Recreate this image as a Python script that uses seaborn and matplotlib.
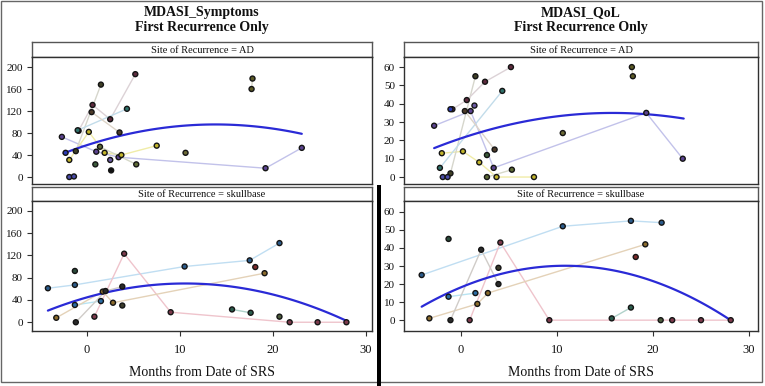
import numpy as np
import pandas as pd
import matplotlib
matplotlib.use("Agg")
import matplotlib.pyplot as plt
import seaborn as sns
from matplotlib.patches import Rectangle

sns.set_theme(style="white")
plt.rcParams['font.family'] = ['Liberation Serif', 'DejaVu Serif']

# ---------------- data ----------------
# MDASI_Symptoms, Site = AD
sym_ad_x = [-2.7, 1.0, 3.4, 19.2, 23.1,
            -1.9, 0.2, 1.9, 3.7, 7.5,
            -1.2, 1.5,
            -0.9, 0.6, 2.5, 5.2,
            -1.0, 4.3,
            1.4, 5.3,
            0.5, 3.5,
            -1.9, -1.4,
            17.7, 17.8,
            -2.3, 0.9, 2.5, 2.6, 10.6]
sym_ad_y = [73, 46, 36, 16, 53,
            31, 82, 44, 40, 57,
            47, 168,
            84, 131, 105, 187,
            85, 124,
            55, 23,
            118, 81,
            0, 1,
            160, 179,
            44, 23, 31, 12, 44]
sym_ad_pid = ['A1'] * 5 + ['A2'] * 5 + ['A3'] * 2 + ['A4'] * 4 + ['A5'] * 2 + ['A6'] * 2 + \
             ['A7'] * 2 + ['A8'] * 2 + ['A9'] * 2 + ['A10', 'A11', 'A12', 'A13', 'A14']

# MDASI_QoL, Site = AD
qol_ad_x = [-2.8, 1.0, 3.4, 19.3, 23.1,
            -2.0, 0.2, 1.9, 3.7, 7.6,
            -1.1, 1.5,
            -0.9, 0.6, 2.5, 5.2,
            -2.2, 4.3,
            2.7, 5.3,
            0.4, 3.5,
            -1.9, -1.4,
            17.8, 17.9,
            -1.1, 2.7, 1.4, 10.6]
qol_ad_y = [28, 36, 5, 35, 10,
            13, 14, 8, 0, 0,
            2, 55,
            37, 42, 52, 60,
            5, 47,
            0, 4,
            36, 15,
            0, 0,
            60, 55,
            37, 12, 39, 24]
qol_ad_pid = ['A1'] * 5 + ['A2'] * 5 + ['A3'] * 2 + ['A4'] * 4 + ['A5'] * 2 + ['A6'] * 2 + \
             ['A7'] * 2 + ['A8'] * 2 + ['A9'] * 2 + ['A10', 'A11', 'A12', 'A14']

# MDASI_Symptoms, Site = skullbase
sym_sb_x = [-4.2, -1.3, 10.5, 17.5, 20.7,
            -1.3, 1.5,
            0.8, 4.0, 9.0, 21.8, 24.8, 27.9,
            -3.3, 1.7, 2.8, 19.1,
            -1.2, 2.0, 3.8,
            15.6, 17.6,
            -1.3, 3.8, 18.1, 20.7]
sym_sb_y = [61, 67, 100, 111, 142,
            31, 38,
            10, 123, 18, 0, 0, 0,
            8, 55, 35, 88,
            0, 56, 64,
            23, 17,
            92, 30, 99, 10]
sym_sb_pid = ['B1'] * 5 + ['B2'] * 2 + ['B3'] * 6 + ['B4'] * 4 + ['B5'] * 3 + ['B6'] * 2 + \
             ['B7', 'B8', 'B9', 'B10']

# MDASI_QoL, Site = skullbase
qol_sb_x = [-4.1, 10.6, 17.7, 20.9,
            -1.3, 1.5,
            0.9, 4.1, 9.2, 22.0, 25.0, 28.1,
            -3.3, 1.7, 2.8, 19.2,
            -1.1, 2.1, 3.9,
            15.7, 17.7,
            -1.3, 3.9, 18.2, 20.8]
qol_sb_y = [25, 52, 55, 54,
            13, 15,
            0, 43, 0, 0, 0, 0,
            1, 9, 15, 42,
            0, 39, 20,
            1, 7,
            45, 29, 35, 0]
qol_sb_pid = ['B1'] * 4 + ['B2'] * 2 + ['B3'] * 6 + ['B4'] * 4 + ['B5'] * 3 + ['B6'] * 2 + \
             ['B7', 'B8', 'B9', 'B10']

# fitted curves (drawn as quadratic regressions)
sym_ad_fit_x = [-2.5, 1.4, 6.8, 13.9, 19.3, 23.1]
sym_ad_fit_y = [44, 64, 85.5, 96.4, 90, 78]
qol_ad_fit_x = [-2.8, 5.4, 16.6, 23.2]
qol_ad_fit_y = [16, 28.4, 35.6, 31.6]
sym_sb_fit_x = [-4.2, 1.4, 11.0, 21.1, 27.9]
sym_sb_fit_y = [20, 52, 70, 43, 3.6]
qol_sb_fit_x = [-4.1, 2.0, 11.0, 21.1, 28.1]
qol_sb_fit_y = [6.9, 23.4, 29.3, 19.6, 0]

titles = ["MDASI_Symptoms\nFirst Recurrence Only", "MDASI_QoL\nFirst Recurrence Only"]
strip_labels = ["Site of Recurrence = AD", "Site of Recurrence = skullbase"]
x_label = "Months from Date of SRS"
sym_yticks = [0, 40, 80, 120, 160, 200]
qol_yticks = [0, 10, 20, 30, 40, 50, 60]
x_ticks = [0, 10, 20, 30]

# ---------------- styles ----------------
point_pal = {
    'A1': '#5b4390', 'A2': '#c2b52c', 'A3': '#3f3f26', 'A4': '#5e2b3e', 'A5': '#2f716a',
    'A6': '#5e6b36', 'A7': '#4d3b29', 'A8': '#4a4ca8', 'A9': '#5c5a26', 'A10': '#2a3ab4',
    'A11': '#3b5b3b', 'A12': '#6b5aa4', 'A13': '#111111', 'A14': '#6c6a36',
    'B1': '#2c5c8c', 'B2': '#2b6ca4', 'B3': '#7c3a4c', 'B4': '#8c6c2c', 'B5': '#2a2a2a',
    'B6': '#2b5c4c', 'B7': '#2b4b3b', 'B8': '#3b3b2b', 'B9': '#7c2a2a', 'B10': '#4c5c3c',
}
line_pal = {
    'A1': '#c2c2ea', 'A2': '#f0eca8', 'A3': '#d6d6cc', 'A4': '#dcd2d6', 'A5': '#c2dcea',
    'A6': '#d6d9c8', 'A7': '#ddd4c8', 'A8': '#ccccee', 'A9': '#d8d8c8',
    'B1': '#c0def2', 'B2': '#b8e4f2', 'B3': '#efc4cc', 'B4': '#e4d2b8', 'B5': '#d0ccc8',
    'B6': '#b0d2ca',
}

W, H = 765, 386
fig = plt.figure(figsize=(W / 100, H / 100), dpi=100)


def add_px_axes(x0, y0, x1, y1):
    return fig.add_axes([x0 / W, 1 - y1 / H, (x1 - x0) / W, (y1 - y0) / H])


def draw_panel(ax, xs, ys, pids, fx, fy, xlim, ylim, yticks, show_x):
    df = pd.DataFrame({'x': xs, 'y': ys, 'pid': pids})
    counts = df['pid'].map(df['pid'].value_counts())
    multi = df[counts > 1]
    sns.lineplot(data=multi, x='x', y='y', hue='pid', units='pid', estimator=None,
                 palette=line_pal, legend=False, lw=1.0, ax=ax, sort=True, zorder=1)
    sns.regplot(x=np.array(fx, float), y=np.array(fy, float), order=2, scatter=False,
                ci=None, truncate=True, ax=ax,
                line_kws=dict(color='#2a2ad6', lw=1.6, zorder=2))
    sns.scatterplot(data=df, x='x', y='y', hue='pid', palette=point_pal, s=13,
                    edgecolor='#141414', linewidth=1.0, legend=False, ax=ax, zorder=3)
    ax.set_xlim(xlim)
    ax.set_ylim(ylim)
    ax.set_yticks(yticks)
    ax.set_xticks(x_ticks)
    ax.set_xlabel('')
    ax.set_ylabel('')
    for s in ax.spines.values():
        s.set_color('#303030')
        s.set_linewidth(1.0)
    ax.tick_params(axis='y', direction='out', length=3.5, width=0.8, color='#303030',
                   labelsize=8, pad=3, left=True, labelcolor='#111111')
    if show_x:
        ax.tick_params(axis='x', direction='out', length=3.6, width=0.8, color='#303030',
                       labelsize=9, pad=6, bottom=True, labelcolor='#111111')
    else:
        ax.tick_params(axis='x', bottom=False, labelbottom=False)
    ax.grid(False)
    ax.set_facecolor('white')


def draw_strip(x0, y0, x1, y1, label):
    s = add_px_axes(x0, y0, x1, y1)
    s.set_xticks([])
    s.set_yticks([])
    s.set_facecolor('white')
    for sp in s.spines.values():
        sp.set_color('#555555')
        sp.set_linewidth(1.0)
    s.text(0.5, 0.45, label, ha='center', va='center', fontsize=7.5,
           transform=s.transAxes, color='#111111')


cols = [
    dict(x0=32, x1=372, xlim=(-5.91, 30.65), yticks=sym_yticks,
         panels=[(sym_ad_x, sym_ad_y, sym_ad_pid, sym_ad_fit_x, sym_ad_fit_y, (-12.7, 218.2)),
                 (sym_sb_x, sym_sb_y, sym_sb_pid, sym_sb_fit_x, sym_sb_fit_y, (-15.7, 217.5))]),
    dict(x0=404, x1=758, xlim=(-5.94, 30.94), yticks=qol_yticks,
         panels=[(qol_ad_x, qol_ad_y, qol_ad_pid, qol_ad_fit_x, qol_ad_fit_y, (-3.8, 65.5)),
                 (qol_sb_x, qol_sb_y, qol_sb_pid, qol_sb_fit_x, qol_sb_fit_y, (-6.0, 66.0))]),
]
rows = [dict(sy0=42, sy1=57, py0=57, py1=184), dict(sy0=187, sy1=201, py0=201, py1=331)]

for ci, col in enumerate(cols):
    for ri, row in enumerate(rows):
        xs, ys, pids, fx, fy, ylim = col['panels'][ri]
        draw_strip(col['x0'], row['sy0'], col['x1'], row['sy1'], strip_labels[ri])
        ax = add_px_axes(col['x0'], row['py0'], col['x1'], row['py1'])
        draw_panel(ax, xs, ys, pids, fx, fy, col['xlim'], ylim, col['yticks'], ri == 1)
    cx = (col['x0'] + col['x1']) / 2 / W
    fig.text(cx, 1 - 20 / H, titles[ci], ha='center', va='center', fontsize=10,
             fontweight='bold', linespacing=1.15, color='#111111')
    fig.text(cx, 1 - 373 / H, x_label, ha='center', va='center', fontsize=10,
             color='#111111')

# outer frame and separator bar
fig.add_artist(Rectangle((1 / W, 1 - 382 / H), 761 / W, 381 / H, transform=fig.transFigure,
                         fill=False, edgecolor='#666666', lw=1.0))
fig.add_artist(Rectangle((377 / W, 0), 4 / W, 201 / H, transform=fig.transFigure,
                         facecolor='black', edgecolor='none'))

fig.savefig('out.png', dpi=100, facecolor='white')
